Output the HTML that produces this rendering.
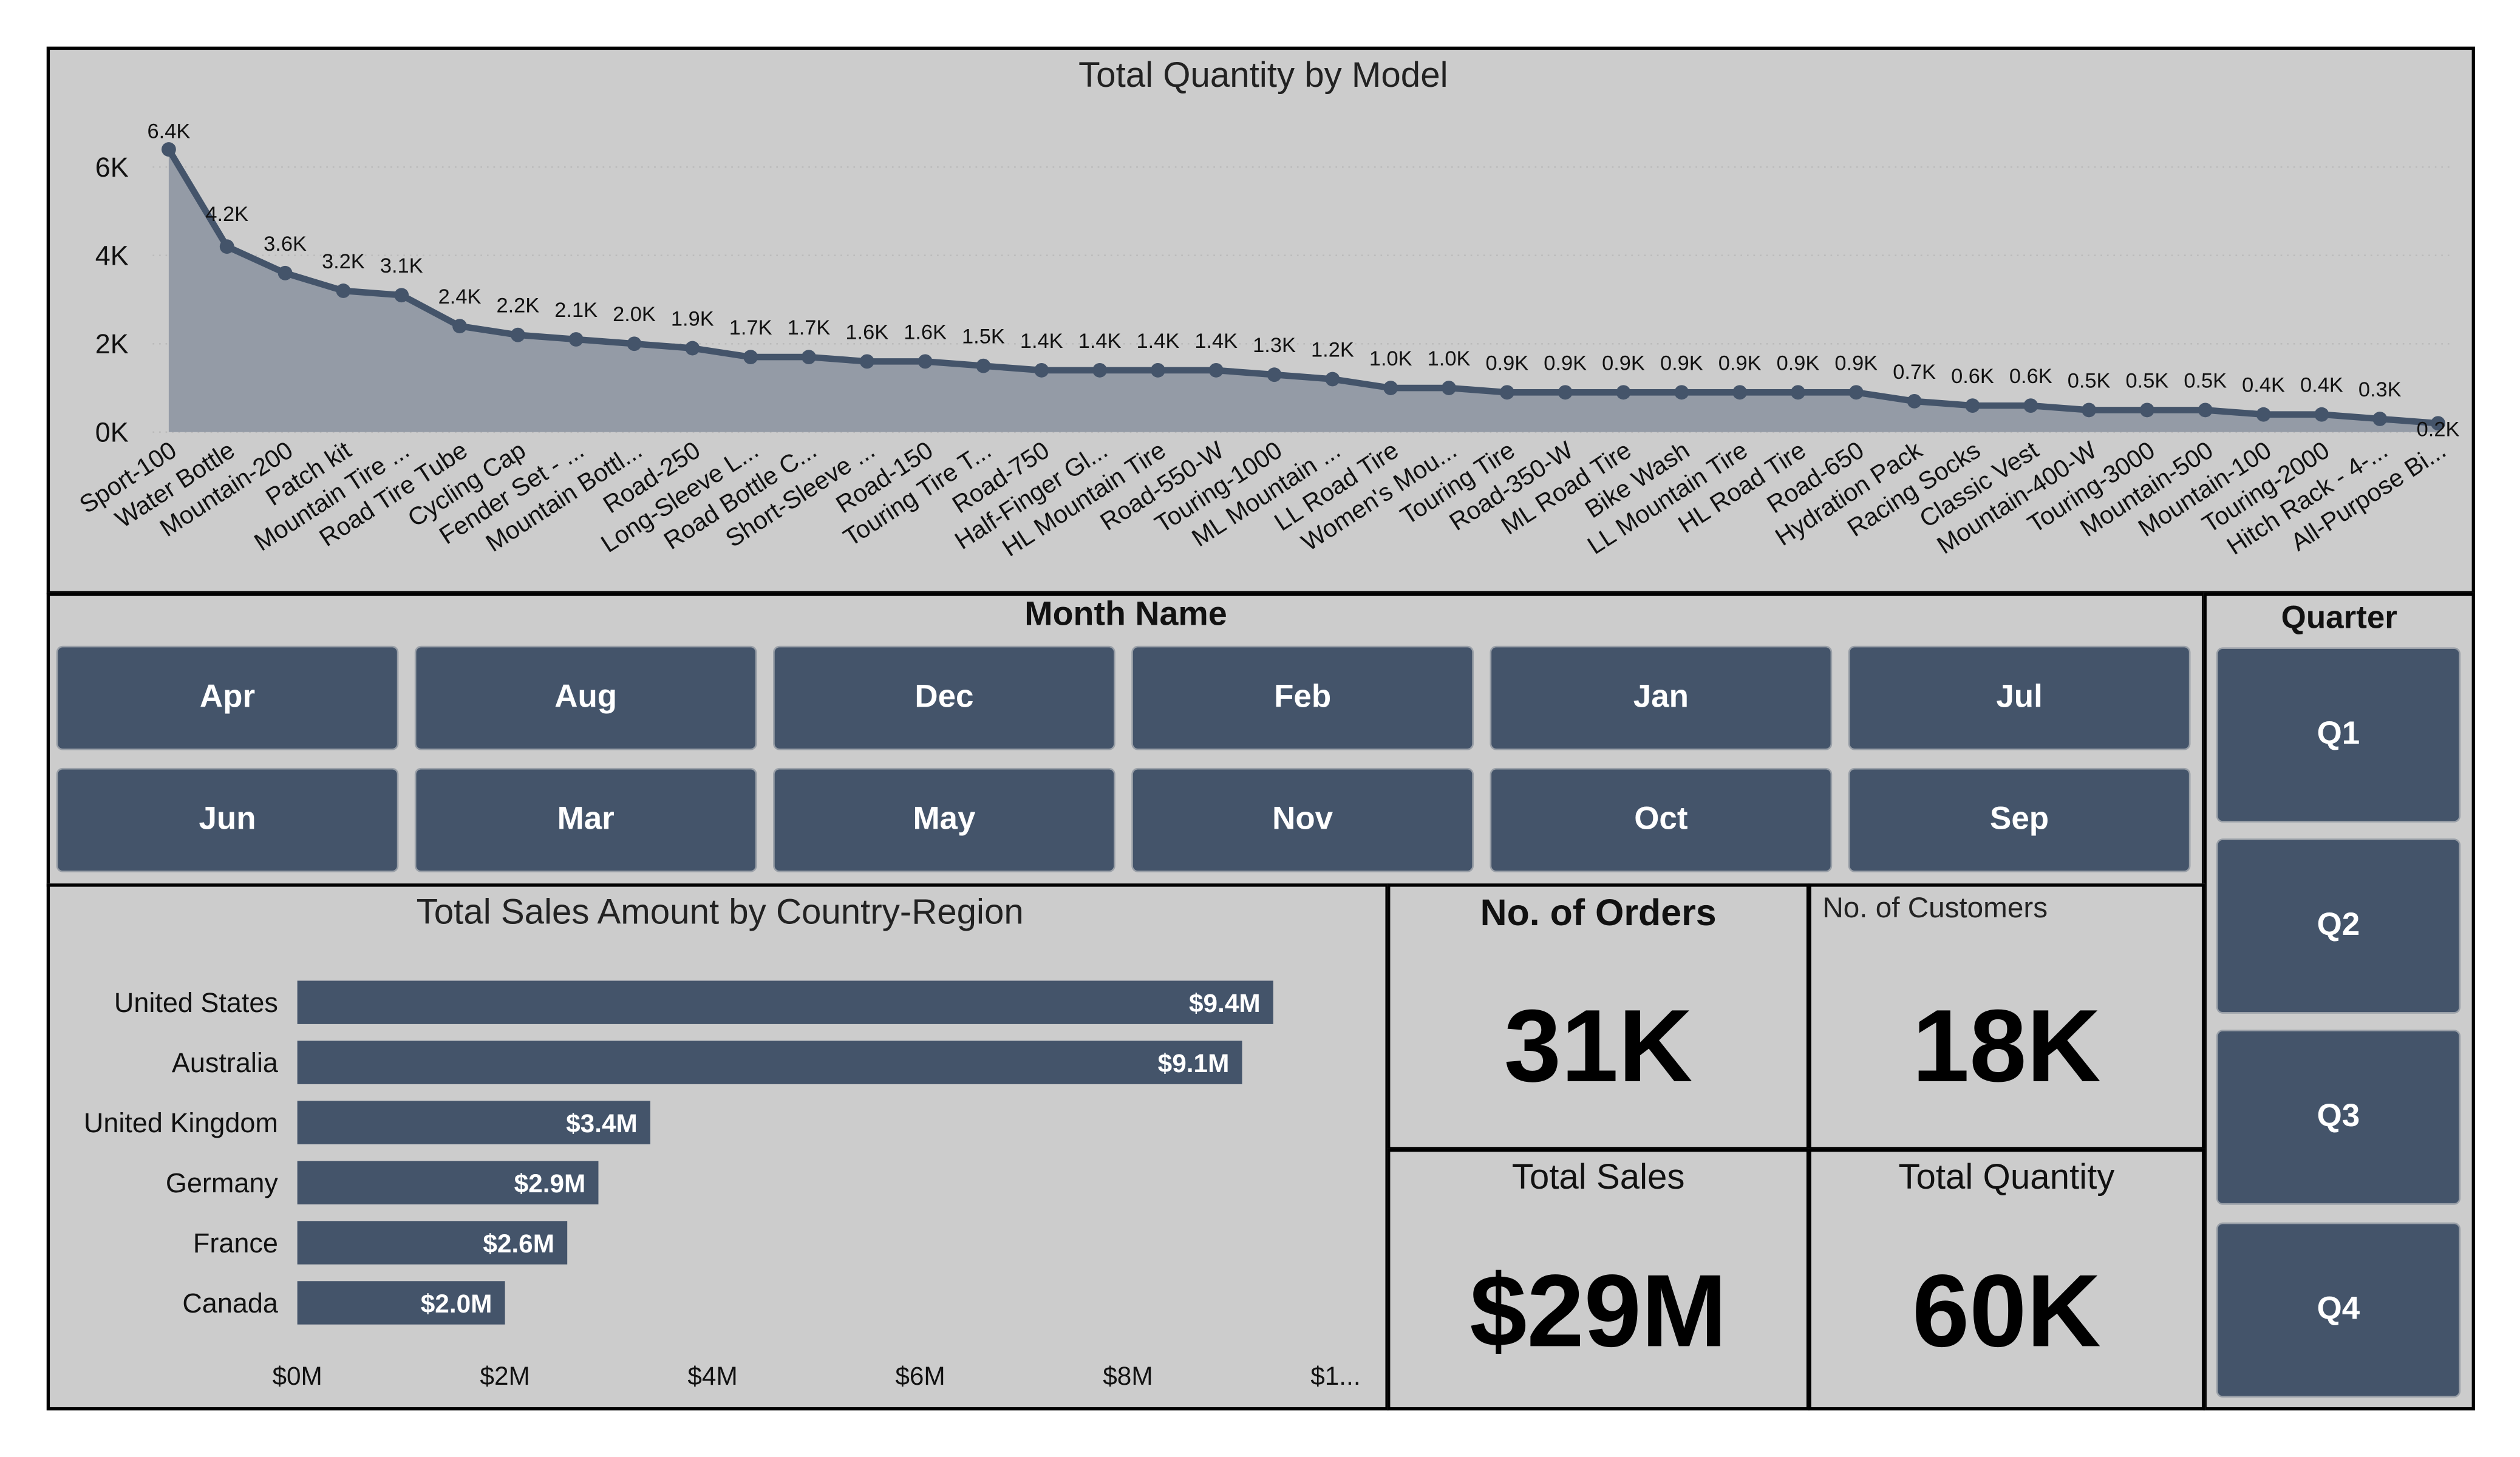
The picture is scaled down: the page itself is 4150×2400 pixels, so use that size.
<!DOCTYPE html>
<html><head><meta charset="utf-8">
<style>
html,body{margin:0;padding:0;background:#fff;width:4150px;height:2400px;overflow:hidden}
#root{position:absolute;left:0;top:0;width:1568px;height:907px;transform:scale(2.6467,2.6461);transform-origin:0 0;font-family:"Liberation Sans",sans-serif}
.panel{position:absolute;background:#cccccc;border:2px solid #000;box-sizing:border-box}
.btn{position:absolute;background:#44546a;color:#fff;font-weight:bold;font-size:20px;display:flex;align-items:center;justify-content:center;border-radius:3px;box-shadow:0 0 0 1px #9aa0a8}
.title{position:absolute;left:0;right:0;text-align:center;color:#111}
.kpi-val{position:absolute;left:0;right:0;text-align:center;font-weight:bold;font-size:64px;color:#000}
</style></head><body>
<div id="root">
  <div class="panel" style="left:29px;top:29px;width:1511px;height:341px">
    <svg id="lineChart" width="1511" height="341" style="position:absolute;left:-2px;top:-2px"></svg>
  </div>

  <div class="panel" style="left:29px;top:369px;width:1343px;height:183px">
    <div class="title" style="top:0px;font-weight:bold;font-size:21px">Month Name</div>
  </div>

  <div class="panel" style="left:1371px;top:369px;width:169px;height:509px">
    <div class="title" style="top:3px;font-weight:bold;font-size:20px">Quarter</div>
  </div>
  <div class="btn" style="left:1380px;top:404px;width:150px;height:107px">Q1</div>
  <div class="btn" style="left:1380px;top:523px;width:150px;height:107px">Q2</div>
  <div class="btn" style="left:1380px;top:642px;width:150px;height:107px">Q3</div>
  <div class="btn" style="left:1380px;top:762px;width:150px;height:107px">Q4</div>

  <div class="panel" style="left:29px;top:550px;width:835px;height:328px">
    <svg id="barChart" width="835" height="328" style="position:absolute;left:-2px;top:-2px"></svg>
  </div>

  <div class="panel" style="left:863px;top:550px;width:263px;height:166px">
    <div class="title" style="top:3px;font-weight:bold;font-size:23px">No. of Orders</div>
    <div class="kpi-val" style="top:62px">31K</div>
  </div>
  <div class="panel" style="left:1125px;top:550px;width:247px;height:166px">
    <div style="position:absolute;left:7px;top:3px;font-size:18px;color:#222">No. of Customers</div>
    <div class="kpi-val" style="top:62px">18K</div>
  </div>
  <div class="panel" style="left:863px;top:715px;width:263px;height:163px">
    <div class="title" style="top:3px;font-size:22px">Total Sales</div>
    <div class="kpi-val" style="top:62px">$29M</div>
  </div>
  <div class="panel" style="left:1125px;top:715px;width:247px;height:163px">
    <div class="title" style="top:3px;font-size:22px">Total Quantity</div>
    <div class="kpi-val" style="top:62px">60K</div>
  </div>
</div>
<script>
const models=["Sport-100","Water Bottle","Mountain-200","Patch kit","Mountain Tire ...","Road Tire Tube","Cycling Cap","Fender Set - ...","Mountain Bottl...","Road-250","Long-Sleeve L...","Road Bottle C...","Short-Sleeve ...","Road-150","Touring Tire T...","Road-750","Half-Finger Gl...","HL Mountain Tire","Road-550-W","Touring-1000","ML Mountain ...","LL Road Tire","Women's Mou...","Touring Tire","Road-350-W","ML Road Tire","Bike Wash","LL Mountain Tire","HL Road Tire","Road-650","Hydration Pack","Racing Socks","Classic Vest","Mountain-400-W","Touring-3000","Mountain-500","Mountain-100","Touring-2000","Hitch Rack - 4-...","All-Purpose Bi..."];
const quantities=[6.4,4.2,3.6,3.2,3.1,2.4,2.2,2.1,2.0,1.9,1.7,1.7,1.6,1.6,1.5,1.4,1.4,1.4,1.4,1.3,1.2,1.0,1.0,0.9,0.9,0.9,0.9,0.9,0.9,0.9,0.7,0.6,0.6,0.5,0.5,0.5,0.4,0.4,0.3,0.2];
const yTicks=[0,2,4,6];
const countries=["United States","Australia","United Kingdom","Germany","France","Canada"];
const sales=[9.4,9.1,3.4,2.9,2.6,2.0];
const xTicks=["$0M","$2M","$4M","$6M","$8M","$1..."];
const xTickVals=[0,2,4,6,8,10];
const months=["Apr","Aug","Dec","Feb","Jan","Jul","Jun","Mar","May","Nov","Oct","Sep"];

const NS="http://www.w3.org/2000/svg";
function mk(parent,tag,attrs,text){const e=document.createElementNS(NS,tag);for(const k in attrs)e.setAttribute(k,attrs[k]);if(text!==undefined)e.textContent=text;parent.appendChild(e);return e;}

const lc=document.getElementById('lineChart');
const ox=29,oy=29;
const xL=i=>105+i*(1517-105)/(models.length-1)-ox;
const yL=v=>269-v*27.5-oy;
let t=mk(lc,'text',{x:786-ox,y:54-oy,'text-anchor':'middle','font-size':22,fill:'#222'},'Total Quantity by Model');

yTicks.forEach(v=>{
  const g=mk(lc,'line',{x1:95-ox,x2:1525-ox,y1:yL(v),y2:yL(v),stroke:'#bbb','stroke-dasharray':'1 3'});
  
  const l=mk(lc,'text',{x:80-ox,y:yL(v)+6,'text-anchor':'end','font-size':17,fill:'#111'},v+'K');
  
});
let area='M'+xL(0)+','+yL(0);quantities.forEach((v,i)=>area+=' L'+xL(i)+','+yL(v));area+=' L'+xL(quantities.length-1)+','+yL(0)+'Z';
const ap=mk(lc,'path',{d:area,fill:'#949ba6'});

const ln=mk(lc,'polyline',{points:quantities.map((v,i)=>xL(i)+','+yL(v)).join(' '),fill:'none',stroke:'#44546a','stroke-width':4,'stroke-linejoin':'round'});

quantities.forEach((v,i)=>{
  const c=mk(lc,'circle',{cx:xL(i),cy:yL(v),r:4.5,fill:'#44546a'});
  
  const dl=mk(lc,'text',{x:xL(i),y:yL(v)-(i===0?7:i===1?16:i===quantities.length-1?-8:14),'text-anchor':'middle','font-size':13,fill:'#111'},v.toFixed(1)+'K');
  
  const xl=mk(lc,'text',{transform:'translate('+(xL(i)+6)+','+(yL(0)+14)+') rotate(-33)','text-anchor':'end','font-size':15.5,fill:'#111'},models[i]);
  
});

const root=document.getElementById('root');
months.forEach((m,i)=>{
  const b=document.createElement('div');b.className='btn';
  b.style.left=(36+(i%6)*223)+'px';b.style.top=(403+Math.floor(i/6)*76)+'px';
  b.style.width='211px';b.style.height='63px';b.textContent=m;
  
  
  root.appendChild(b);
});

const bc=document.getElementById('barChart');
const bx=29,by=550;
const xB=v=>185+v*64.6-bx;
t=mk(bc,'text',{x:448-bx,y:575-by,'text-anchor':'middle','font-size':22,fill:'#222'},'Total Sales Amount by Country-Region');

countries.forEach((c,i)=>{
  const yc=624+i*37.4-by;
  const r=mk(bc,'rect',{x:xB(0),y:yc-13.5,width:xB(sales[i])-xB(0),height:27,fill:'#44546a'});
  
  const cl=mk(bc,'text',{x:173-bx,y:yc+6,'text-anchor':'end','font-size':17,fill:'#111'},c);
  
  const vl=mk(bc,'text',{x:xB(sales[i])-8,y:yc+6,'text-anchor':'end','font-size':16,'font-weight':'bold',fill:'#fff'},'$'+sales[i].toFixed(1)+'M');
  
});
xTickVals.forEach((v,i)=>{
  const l=mk(bc,'text',{x:xB(v),y:862-by,'text-anchor':'middle','font-size':16,fill:'#111'},xTicks[i]);
  
});
</script>
</body></html>
